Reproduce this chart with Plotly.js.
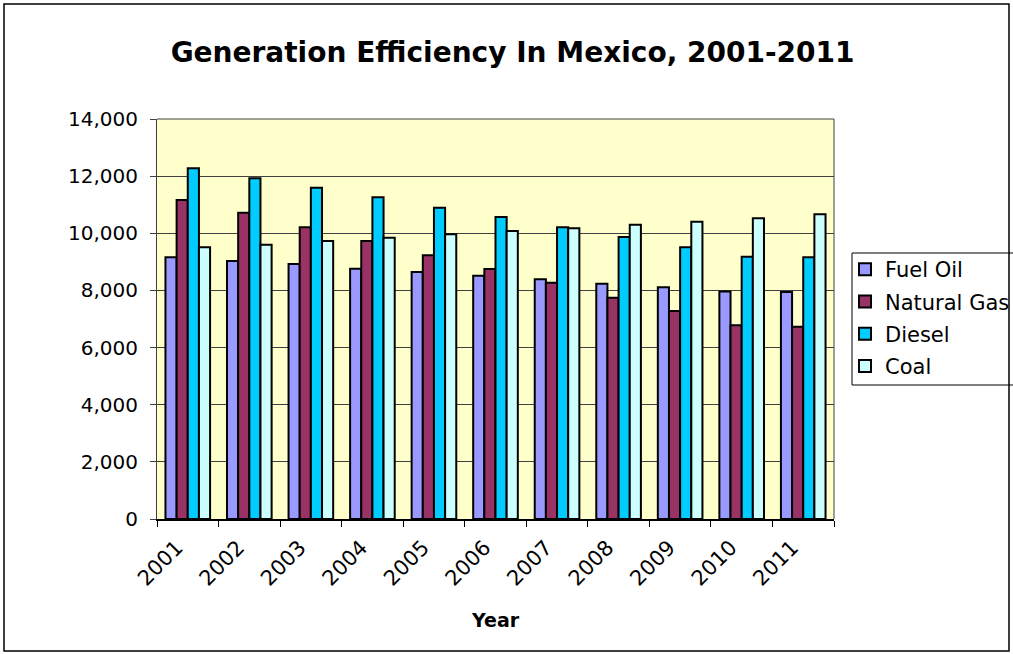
<!DOCTYPE html>
<html>
<head>
<meta charset="utf-8">
<script src="https://cdn.plot.ly/plotly-3.0.1.min.js"></script>
<style>
  html, body { margin: 0; padding: 0; background: #ffffff; }
  #chart { width: 1013px; height: 654px; }
</style>
</head>
<body>
<div id="chart"></div>
<script>
const years = ["2001","2002","2003","2004","2005","2006","2007","2008","2009","2010","2011"];
const fuelOil    = [9160, 9030, 8925, 8760, 8645, 8515, 8390, 8235, 8110, 7960, 7945];
const naturalGas = [11165, 10720, 10210, 9730, 9230, 8750, 8270, 7740, 7280, 6780, 6730];
const diesel     = [12275, 11925, 11595, 11260, 10895, 10570, 10210, 9870, 9510, 9180, 9160];
const coal       = [9510, 9600, 9730, 9845, 9965, 10080, 10175, 10300, 10405, 10525, 10665];
const seriesNames = ["Fuel Oil", "Natural Gas", "Diesel", "Coal"];
const seriesColors = ["#9999FF", "#993366", "#00CCFF", "#CCFFFF"];
const seriesValues = [fuelOil, naturalGas, diesel, coal];

const traces = seriesValues.map((vals, i) => ({
  type: "bar",
  name: seriesNames[i],
  x: years,
  y: vals,
  legendgroup: "g" + i,
  marker: { color: seriesColors[i], line: { color: "#000000", width: 2 } },
  hoverinfo: "x+y+name"
}));

const L = 157, R = 834, T = 119, B = 519, W = 1013, H = 654;
const pw = R - L, ph = B - T;
const px = v => (v - L) / pw;
const py = v => (B - v) / ph;

const layout = {
  width: W, height: H,
  margin: { l: L, r: W - R, t: T, b: H - B, autoexpand: false },
  paper_bgcolor: "#ffffff",
  plot_bgcolor: "#FFFFCC",
  font: { family: "DejaVu Sans, Verdana, sans-serif", color: "#000000" },
  title: {
    text: "<b>Generation Efficiency In Mexico, 2001-2011</b>",
    font: { size: 28, family: "DejaVu Sans, Verdana, sans-serif", color: "#000000" },
    x: 0.506, xref: "container", xanchor: "center",
    y: 1 - 52 / H, yref: "container", yanchor: "middle"
  },
  bargap: 0.275,
  bargroupgap: 0,
  barmode: "group",
  xaxis: {
    type: "category",
    tickson: "boundaries",
    ticks: "outside",
    ticklen: 6,
    tickcolor: "#000000",
    tickwidth: 1,
    tickangle: -45,
    tickfont: { size: 21 },
    ticklabelshift: -11,
    ticklabelstandoff: 6,
    showline: true,
    linecolor: "#000000",
    linewidth: 2,
    mirror: false,
    showgrid: false
  },
  yaxis: {
    range: [0, 14000],
    dtick: 2000,
    tick0: 0,
    tickformat: ",d",
    ticks: "outside",
    ticklen: 6,
    tickcolor: "#404040",
    ticklabelstandoff: 8,
    tickfont: { size: 20 },
    showline: true,
    linecolor: "#404040",
    linewidth: 1,
    showgrid: true,
    gridcolor: "#404040",
    gridwidth: 1,
    zeroline: false
  },
  legend: {
    x: px(845), xanchor: "left",
    y: py(249), yanchor: "top",
    borderwidth: 0,
    bgcolor: "rgba(0,0,0,0)",
    font: { size: 21 },
    tracegroupgap: 2,
    itemwidth: 30
  },
  showlegend: true,
  annotations: [
    { text: "<b>Year</b>", xref: "paper", yref: "paper",
      x: px(495), y: py(620), xanchor: "center", yanchor: "middle",
      showarrow: false, font: { size: 19, color: "#000000" } }
  ],
  shapes: [
    { type: "line", xref: "paper", yref: "paper", x0: 1, x1: 1, y0: 0, y1: 1,
      line: { color: "#404040", width: 1 } },
    { type: "line", xref: "paper", yref: "paper", x0: 0, x1: 1, y0: 1, y1: 1,
      line: { color: "#404040", width: 1 } },
    { type: "rect", xref: "paper", yref: "paper",
      x0: px(852), x1: px(1040), y0: py(385), y1: py(253),
      fillcolor: "#ffffff", line: { color: "#000000", width: 1 }, layer: "below" },
    { type: "rect", xref: "paper", yref: "paper",
      x0: px(4), x1: px(1009), y0: py(651), y1: py(4),
      line: { color: "#000000", width: 1.5 }, layer: "below" }
  ]
};

Plotly.newPlot("chart", traces, layout, { displayModeBar: false, staticPlot: true });
</script>
</body>
</html>
